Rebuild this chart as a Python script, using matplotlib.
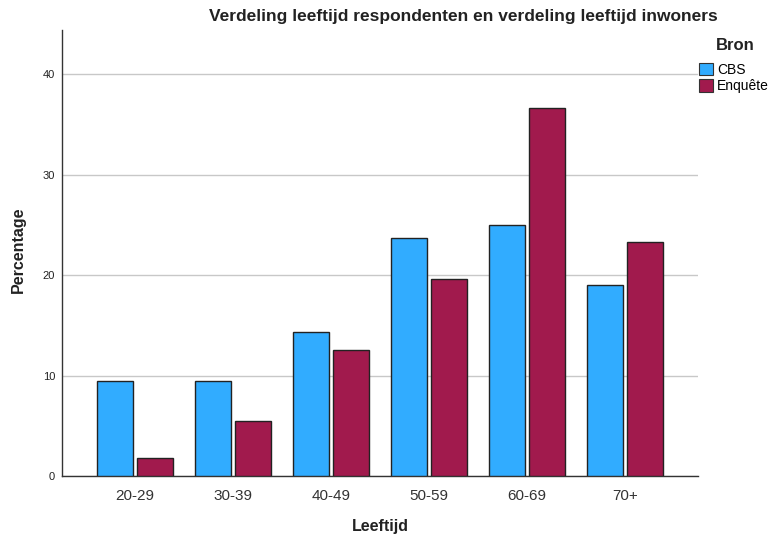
import matplotlib.pyplot as plt
import numpy as np
from matplotlib.patches import Patch

plt.rcParams['font.family'] = ['Liberation Sans', 'DejaVu Sans']

# data
groups = ["20-29", "30-39", "40-49", "50-59", "60-69", "70+"]
cbs = [9.5, 9.5, 14.3, 23.7, 25.0, 19.0]
enquete = [1.8, 5.5, 12.5, 19.6, 36.6, 23.3]
series_names = ["CBS", "Enquête"]
colors = ["#31acff", "#a11a4d"]

fig = plt.figure(figsize=(7.81, 5.40), dpi=100)
ax = fig.add_axes([62 / 781, 64 / 540, 636 / 781, 446 / 540])

x = np.arange(len(groups))
w = 0.37
ax.bar(x - 0.205, cbs, w, color=colors[0], edgecolor="#222222", linewidth=1, zorder=3)
ax.bar(x + 0.205, enquete, w, color=colors[1], edgecolor="#222222", linewidth=1, zorder=3)

ax.set_xlim(-0.745, 5.745)
ax.set_ylim(0, 44.4)
ax.set_yticks([0, 10, 20, 30, 40])
ax.yaxis.grid(True, color="#c8c8c8", linewidth=1, zorder=0)
ax.set_xticks(x)
ax.set_xticklabels(groups, fontsize=11, color="#333333")
ax.tick_params(axis="y", labelsize=8, length=0, pad=5, labelcolor="#222222")
ax.tick_params(axis="x", length=0, pad=9)
for s in ["top", "right"]:
    ax.spines[s].set_visible(False)
for s in ["left", "bottom"]:
    ax.spines[s].set_color("#333333")
    ax.spines[s].set_linewidth(1)

fig.text(463 / 781, 1 - 17 / 540, "Verdeling leeftijd respondenten en verdeling leeftijd inwoners",
         ha="center", va="center", fontsize=12.5, fontweight="bold", color="#222222")
fig.text(18 / 781, 1 - 250 / 540, "Percentage", rotation=90, ha="center", va="center",
         fontsize=11.5, fontweight="bold", color="#222222")
fig.text(380 / 781, 1 - 527 / 540, "Leeftijd", ha="center", va="center",
         fontsize=11.5, fontweight="bold", color="#222222")

fig.text(735 / 781, 1 - 46 / 540, "Bron", ha="center", va="center",
         fontsize=12, fontweight="bold", color="#222222")
handles = [Patch(facecolor=c, edgecolor="#333333", linewidth=0.8) for c in colors]
fig.legend(handles, series_names, loc="upper left", bbox_to_anchor=(699 / 781, 1 - 63 / 540),
           frameon=False, fontsize=10, handlelength=1.0, handleheight=1.0, handletextpad=0.3,
           labelspacing=0.15, borderpad=0, borderaxespad=0)

fig.savefig("out.png", dpi=100)
